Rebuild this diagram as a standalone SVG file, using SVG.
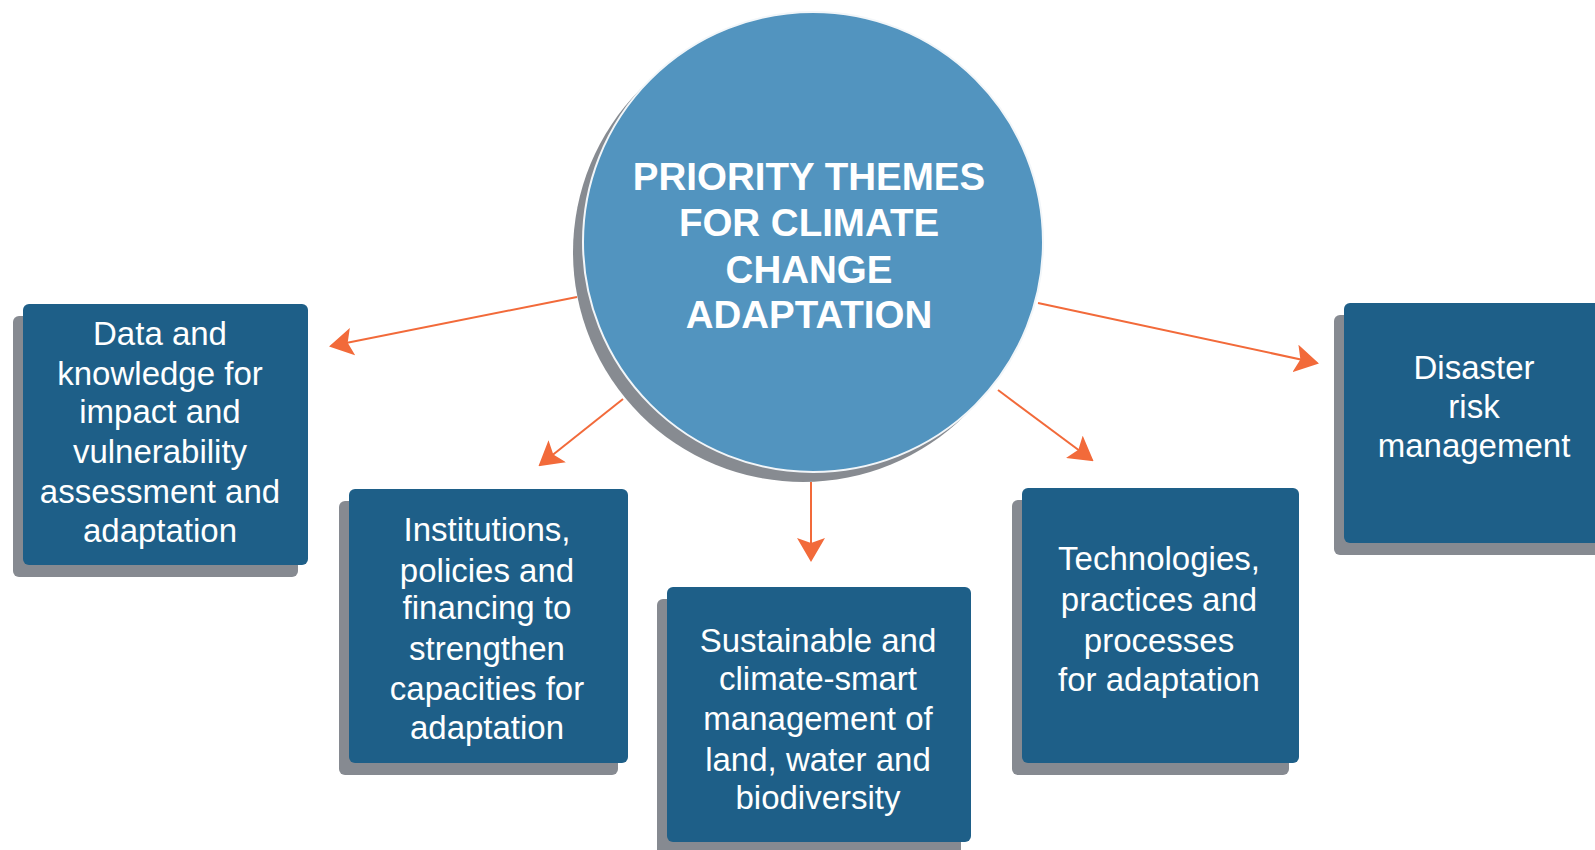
<svg xmlns="http://www.w3.org/2000/svg" width="1595" height="850" viewBox="0 0 1595 850">
<style>
.shadow{fill:#868a91}
.box{fill:#1e5f88}
.t{font-family:"Liberation Sans",Arial,sans-serif;font-size:33px;fill:#ffffff;text-anchor:middle}
.ct{font-family:"Liberation Sans",Arial,sans-serif;font-size:38.5px;font-weight:bold;fill:#ffffff;text-anchor:middle}
.arrow{stroke:#f26a3a;stroke-width:2;fill:none;marker-end:url(#ah)}
</style>
<defs>
<marker id="ah" viewBox="0 0 24 28" refX="22" refY="14" markerWidth="24" markerHeight="28" markerUnits="userSpaceOnUse" orient="auto">
<path d="M0,0 L24,14 L0,28 L5,14 Z" fill="#f26a3a"/>
</marker>
</defs>
<rect width="1595" height="850" fill="#ffffff"/>
<g id="connectors">
<line class="arrow" x1="577" y1="297" x2="331" y2="346"/>
<line class="arrow" x1="623" y1="399" x2="540" y2="465"/>
<line class="arrow" x1="811" y1="482" x2="811" y2="560"/>
<line class="arrow" x1="998" y1="390" x2="1092" y2="460"/>
<line class="arrow" x1="1038" y1="303" x2="1317" y2="363"/>
</g>
<g id="center">
<circle cx="803" cy="252" r="230" fill="#878b91"/>
<circle cx="813" cy="242" r="230" fill="#5294bf" stroke="#f2f6f9" stroke-width="2"/>
<text class="ct" x="809" y="190">PRIORITY THEMES</text>
<text class="ct" x="809" y="236">FOR CLIMATE</text>
<text class="ct" x="809" y="283">CHANGE</text>
<text class="ct" x="809" y="328">ADAPTATION</text>
</g>
<g id="data">
<rect class="shadow" x="13" y="316" width="285" height="261" rx="6"/>
<rect class="box" x="23" y="304" width="285" height="261" rx="6"/>
<text class="t" x="160" y="345">Data and</text>
<text class="t" x="160" y="385">knowledge for</text>
<text class="t" x="160" y="423">impact and</text>
<text class="t" x="160" y="463">vulnerability</text>
<text class="t" x="160" y="503">assessment and</text>
<text class="t" x="160" y="542">adaptation</text>
</g>
<g id="institutions">
<rect class="shadow" x="339" y="501" width="279" height="274" rx="6"/>
<rect class="box" x="349" y="489" width="279" height="274" rx="6"/>
<text class="t" x="487" y="541">Institutions,</text>
<text class="t" x="487" y="582">policies and</text>
<text class="t" x="487" y="619">financing to</text>
<text class="t" x="487" y="660">strengthen</text>
<text class="t" x="487" y="700">capacities for</text>
<text class="t" x="487" y="739">adaptation</text>
</g>
<g id="sustainable">
<rect class="shadow" x="657" y="599" width="304" height="260" rx="6"/>
<rect class="box" x="667" y="587" width="304" height="255" rx="6"/>
<text class="t" x="818" y="652">Sustainable and</text>
<text class="t" x="818" y="690">climate-smart</text>
<text class="t" x="818" y="730">management of</text>
<text class="t" x="818" y="771">land, water and</text>
<text class="t" x="818" y="809">biodiversity</text>
</g>
<g id="technologies">
<rect class="shadow" x="1012" y="500" width="277" height="275" rx="6"/>
<rect class="box" x="1022" y="488" width="277" height="275" rx="6"/>
<text class="t" x="1159" y="570">Technologies,</text>
<text class="t" x="1159" y="611">practices and</text>
<text class="t" x="1159" y="652">processes</text>
<text class="t" x="1159" y="691">for adaptation</text>
</g>
<g id="disaster">
<rect class="shadow" x="1334" y="315" width="280" height="240" rx="6"/>
<rect class="box" x="1344" y="303" width="280" height="240" rx="6"/>
<text class="t" x="1474" y="379">Disaster</text>
<text class="t" x="1474" y="418">risk</text>
<text class="t" x="1474" y="457">management</text>
</g>
</svg>
